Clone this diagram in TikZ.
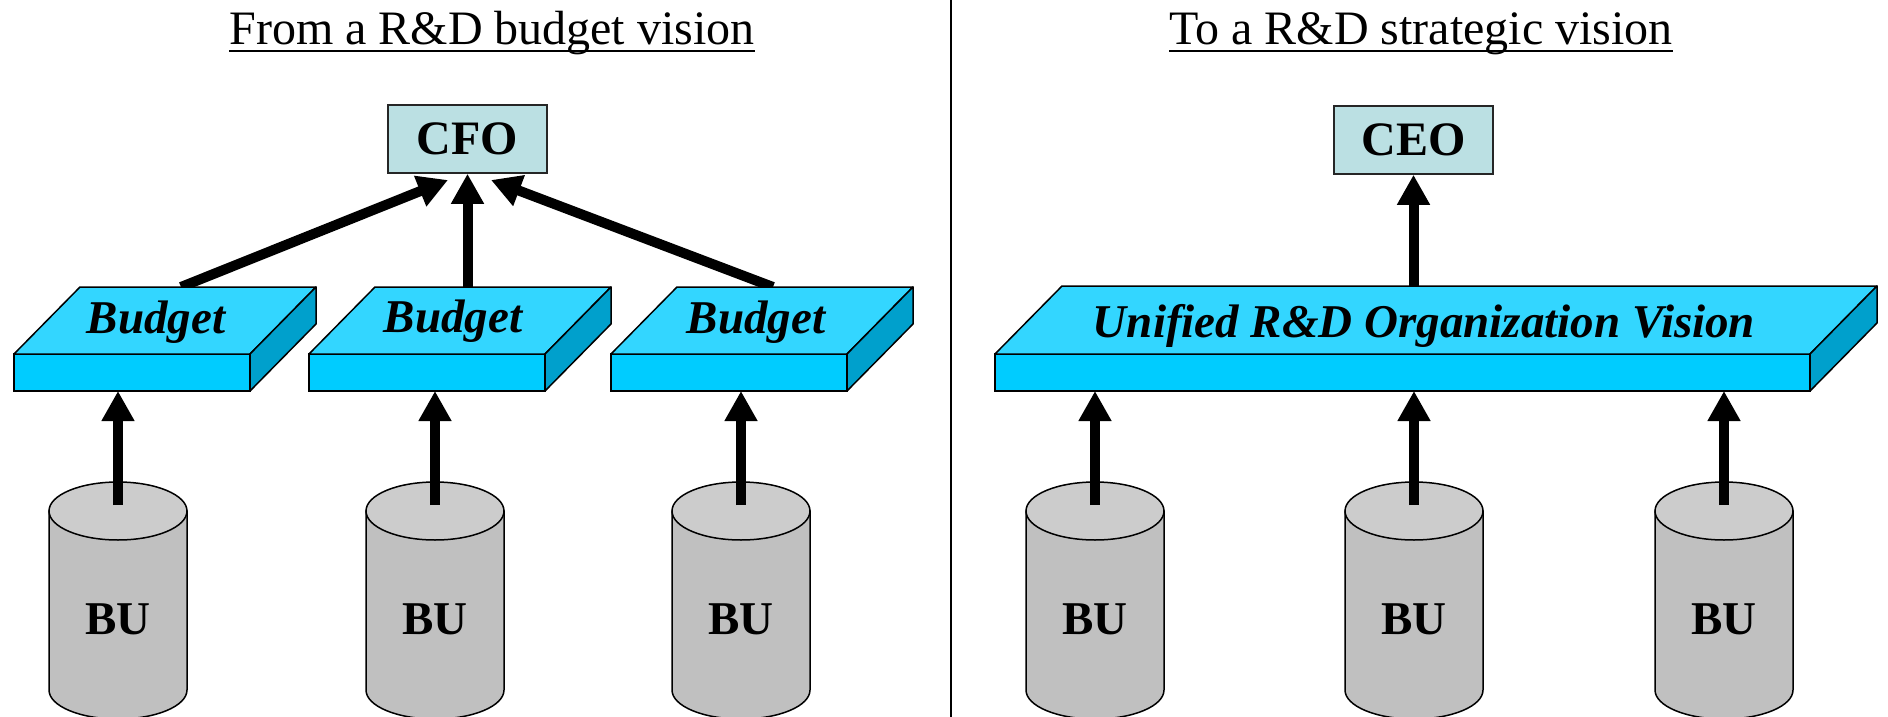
\documentclass[tikz,border=0pt]{standalone}
\usepackage{fontspec}
\setmainfont{Liberation Serif}
\usetikzlibrary{arrows.meta, positioning}

\definecolor{boxteal}{RGB}{187,224,227}
\definecolor{slabtop}{RGB}{51,214,255}
\definecolor{slabfront}{RGB}{0,204,255}
\definecolor{slabside}{RGB}{0,160,204}
\definecolor{cyltop}{RGB}{204,204,204}
\definecolor{cylbody}{RGB}{192,192,192}

\begin{document}
\begin{tikzpicture}[
        x=1pt, y=-1pt,
        heading/.style={font=\fontsize{48}{56}\selectfont, inner sep=0pt, anchor=base},
        headbox/.style={draw=black!85, fill=boxteal, line width=1.5pt, minimum width=159pt,
            minimum height=68pt, font=\fontsize{48}{56}\selectfont\bfseries},
        slabfront/.style={draw, fill=slabfront, line width=1.5pt, minimum height=37pt,
            inner sep=0pt, outer sep=0pt},
        slabface/.style={draw, line width=1.5pt, line join=round},
        slablabel/.style={font=\fontsize{47}{56}\selectfont\bfseries\itshape, inner sep=0pt, anchor=base},
        bulabel/.style={font=\fontsize{47}{56}\selectfont\bfseries, inner sep=0pt, anchor=base},
        uparrow/.style={line width=10pt, -{Triangle[length=30pt, width=31pt]}}
    ]

    \clip (0,0) rectangle (1888,717);

    % Divider between the two halves
    \draw[line width=2pt] (951,0) -- (951,717);

    % Headings
    \node[heading] (ttl1) at (492,45) {From a R\&D budget vision};
    \node[heading] (ttl2) at (1421,45) {To a R\&D strategic vision};
    \draw[line width=2.5pt] ([yshift=-6pt]ttl1.base west) -- ([yshift=-6pt]ttl1.base east);
    \draw[line width=2.5pt] ([yshift=-6pt]ttl2.base west) -- ([yshift=-6pt]ttl2.base east);

    % Business units (cylinders)
    \foreach \n/\cx in {1/118, 2/435, 3/741, 4/1095, 5/1414, 6/1724} {
        \filldraw[fill=cylbody, line width=1.5pt] (\cx-69,511) -- (\cx-69,690)
            arc[start angle=180, end angle=0, x radius=69, y radius=29] -- (\cx+69,511) -- cycle;
        \filldraw[fill=cyltop, line width=1.5pt] (\cx,511) ellipse [x radius=69, y radius=29];
        \node[bulabel] (bu\n) at (\cx,634) {BU};
        \coordinate (bu\n top) at (\cx,505);
    }

    % CFO and CEO
    \node[headbox] (cfo) at (467.5,139) {CFO};
    \node[headbox] (ceo) at (1413.5,140) {CEO};

    % Front faces of the slabs
    \node[slabfront, minimum width=236pt] (b1) at (132,372.5) {};
    \node[slabfront, minimum width=236pt] (b2) at (427,372.5) {};
    \node[slabfront, minimum width=236pt] (b3) at (729,372.5) {};
    \node[slabfront, minimum width=815pt] (uni) at (1402.5,372.5) {};

    % Budgets up to the CFO
    \coordinate (b1back) at (181,287);
    \coordinate (b2back) at (467.5,287);
    \coordinate (b3back) at (773,287);
    \coordinate (cfoL) at (448,180);
    \coordinate (cfoR) at (491,180);
    \draw[uparrow] (b1back) -- (cfoL);
    \draw[uparrow] (b2back) -- (cfo.south);
    \draw[uparrow] (b3back) -- (cfoR);

    % Unified vision up to the CEO
    \coordinate (uniback) at (1413.5,287);
    \draw[uparrow] (uniback) -- (ceo.south);

    % Business units up to the slabs
    \draw[uparrow] (bu1top) -- (bu1top |- b1.south);
    \draw[uparrow] (bu2top) -- (bu2top |- b2.south);
    \draw[uparrow] (bu3top) -- (bu3top |- b3.south);
    \draw[uparrow] (bu4top) -- (bu4top |- uni.south);
    \draw[uparrow] (bu5top) -- (bu5top |- uni.south);
    \draw[uparrow] (bu6top) -- (bu6top |- uni.south);

    % Top and side faces of the slabs
    \filldraw[slabface, fill=slabtop] (b1.north west) -- ++(66,-67) -- ++(236,0) -- (b1.north east) -- cycle;
    \filldraw[slabface, fill=slabside] (b1.north east) -- ++(66,-67) -- ++(0,37) -- (b1.south east) -- cycle;
    \filldraw[slabface, fill=slabtop] (b2.north west) -- ++(66,-67) -- ++(236,0) -- (b2.north east) -- cycle;
    \filldraw[slabface, fill=slabside] (b2.north east) -- ++(66,-67) -- ++(0,37) -- (b2.south east) -- cycle;
    \filldraw[slabface, fill=slabtop] (b3.north west) -- ++(66,-67) -- ++(236,0) -- (b3.north east) -- cycle;
    \filldraw[slabface, fill=slabside] (b3.north east) -- ++(66,-67) -- ++(0,37) -- (b3.south east) -- cycle;
    \filldraw[slabface, fill=slabtop] (uni.north west) -- ++(67,-68) -- ++(815,0) -- (uni.north east) -- cycle;
    \filldraw[slabface, fill=slabside] (uni.north east) -- ++(67,-68) -- ++(0,37) -- (uni.south east) -- cycle;

    % Slab labels
    \node[slablabel] (lb1) at (156,333) {Budget};
    \node[slablabel] (lb2) at (453,332) {Budget};
    \node[slablabel] (lb3) at (756,333) {Budget};
    \node[slablabel] (lbuni) at (1424,337) {Unified R\&D Organization Vision};

\end{tikzpicture}
\end{document}
